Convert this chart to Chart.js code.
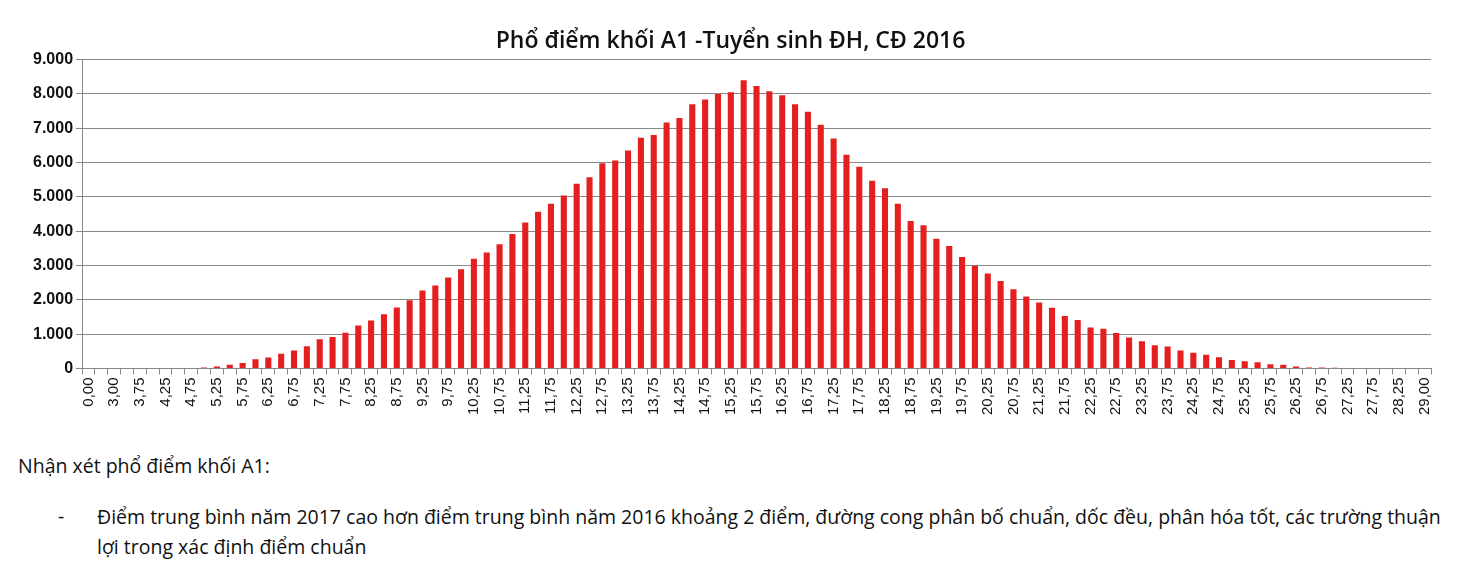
<!DOCTYPE html>
<html>
<head>
<meta charset="utf-8">
<script src="https://cdn.jsdelivr.net/npm/chart.js@4/dist/chart.umd.min.js"></script>
<style>
  body { margin: 0; background: #fff; font-family: "Open Sans", "Liberation Sans", sans-serif; }
  #wrap { position: relative; width: 1473px; height: 418px; }
  .note { font-size: 19.5px; color: #111; margin: 0; }
  #n1 { position: absolute; left: 18px; top: 452px; }
  #n2 { position: absolute; left: 58px; top: 502px; }
  #n3 { position: absolute; left: 97px; top: 502px; width: 1370px; line-height: 30px; }
</style>
</head>
<body>
<div id="wrap"><canvas id="c"></canvas></div>
<p class="note" id="n1">Nhận xét phổ điểm khối A1:</p>
<p class="note" id="n2">-</p>
<p class="note" id="n3">Điểm trung bình năm 2017 cao hơn điểm trung bình năm 2016 khoảng 2 điểm, đường cong phân bố chuẩn, dốc đều, phân hóa tốt, các trường thuận lợi trong xác định điểm chuẩn</p>
<script>
// Score categories (0,00 ... 29,00)
const scores = [0, 2.5, 3, 3.5];
for (let s = 3.75; s <= 28.5; s += 0.25) scores.push(s);
scores.push(29);
const labels = scores.map(s => s.toFixed(2).replace('.', ','));

// Number of candidates per score
const counts = [
  0, 0, 0, 0,
  0, 0, 0, 0, 10, 30, 60, 110, 160, 270, 320, 430, 520, 650,
  850, 920, 1040, 1250, 1400, 1580, 1780, 1990, 2270, 2420, 2650, 2890,
  3200, 3380, 3620, 3920, 4250, 4570, 4800, 5040, 5380, 5570, 5980, 6060,
  6350, 6720, 6800, 7170, 7300, 7700, 7840, 8000, 8050, 8400,
  8230, 8080, 7960, 7700, 7480, 7100, 6700, 6230, 5880, 5470, 5250, 4800,
  4300, 4170, 3780, 3570, 3250, 2990, 2770, 2550, 2310, 2100, 1920, 1770,
  1530, 1410, 1190, 1160, 1030, 900, 790, 680, 640, 520, 460, 400,
  330, 250, 210, 180, 120, 110, 60, 30, 25, 20, 0, 0,
  0, 0, 0, 0, 0
];

const yTicks = [0, 1000, 2000, 3000, 4000, 5000, 6000, 7000, 8000, 9000];

new Chart(document.getElementById('c'), {
  type: 'bar',
  data: {
    labels: labels,
    datasets: [{ data: counts, backgroundColor: '#e3201f', barPercentage: 0.95, categoryPercentage: 0.5 }]
  },
  options: {
    responsive: true,
    maintainAspectRatio: false,
    animation: false,
    layout: { padding: { left: 30, right: 42, top: 4 } },
    plugins: {
      legend: { display: false },
      tooltip: { enabled: false },
      title: {
        display: true,
        text: 'Phổ điểm khối A1 -Tuyển sinh ĐH, CĐ 2016',
        color: '#111',
        font: { family: 'Open Sans', size: 23, weight: '600' },
        padding: { top: 24, bottom: 4 }
      }
    },
    scales: {
      x: {
        grid: { display: true, drawOnChartArea: false, offset: true, color: '#888', tickLength: 6 },
        border: { color: '#888' },
        ticks: {
          autoSkip: false, maxRotation: 90, minRotation: 90, color: '#111',
          font: { family: 'Liberation Sans', size: 15 },
          callback: function (v, i) { return i % 2 === 0 ? labels[i] : ''; }
        }
      },
      y: {
        min: 0, max: 9000,
        afterBuildTicks: ax => { ax.ticks = yTicks.map(v => ({ value: v })); },
        grid: { color: '#888', tickLength: 6 },
        border: { color: '#888' },
        ticks: {
          color: '#111', font: { family: 'Liberation Sans', size: 16, weight: 'bold' },
          callback: v => v === 0 ? '0' : (v / 1000).toFixed(0) + '.000'
        }
      }
    }
  }
});
</script>
</body>
</html>
